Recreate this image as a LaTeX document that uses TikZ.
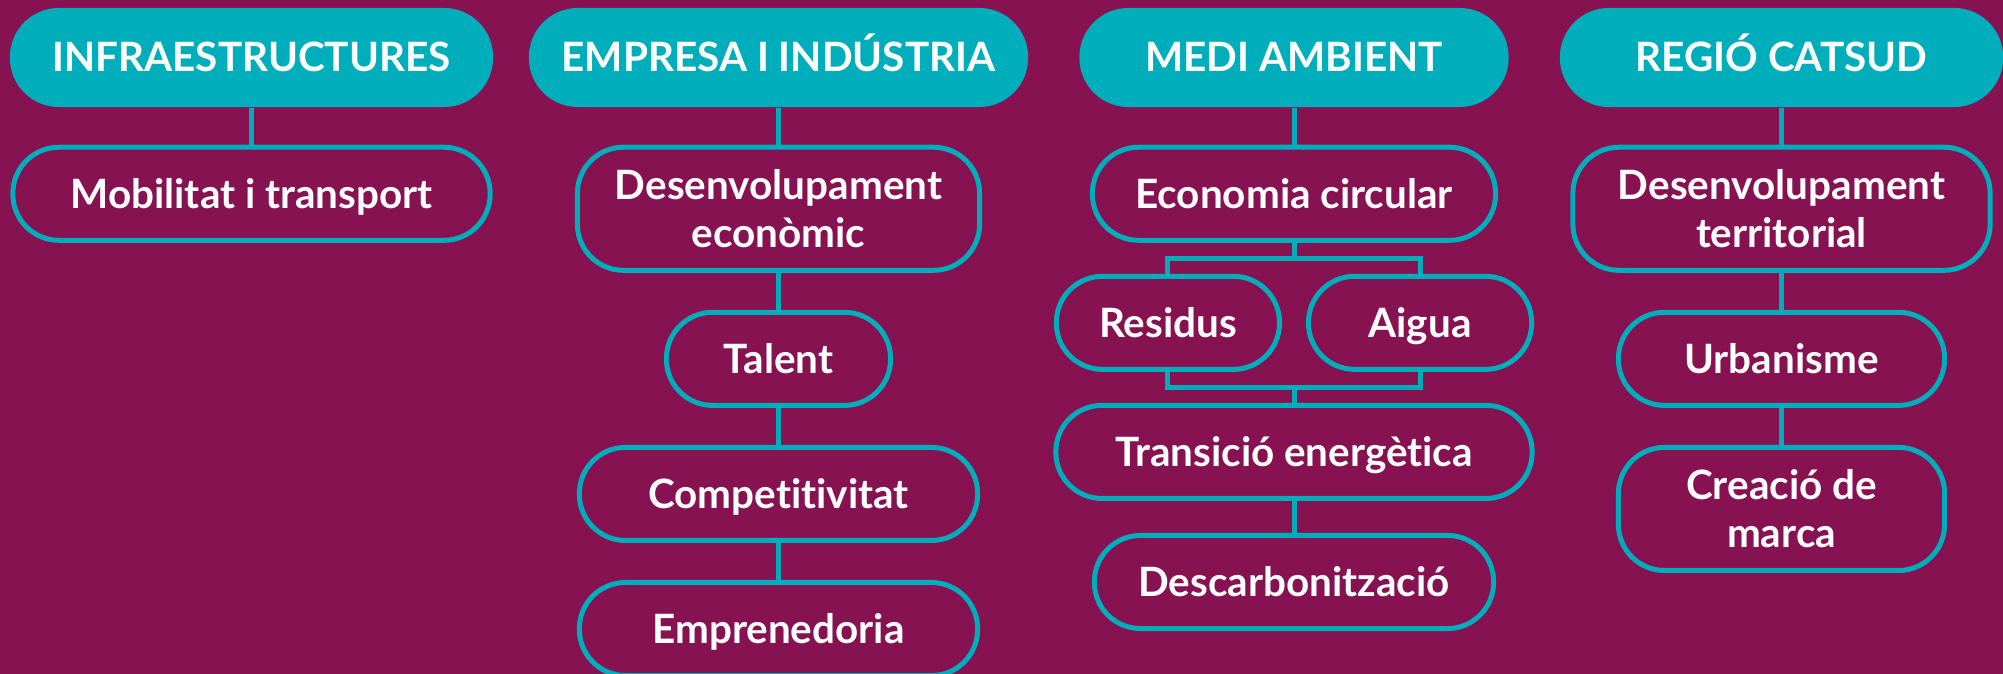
\documentclass[tikz,border=0pt]{standalone}
\usepackage{fontspec}
\setmainfont{Lato}[Ligatures=CommonOff]
\usetikzlibrary{positioning,calc}
\definecolor{plum}{HTML}{871252}
\definecolor{aqua}{HTML}{00ADBB}

\begin{document}
\begin{tikzpicture}[x=0.01cm,y=-0.01cm,node distance=0.37cm,
	every node/.style={text=white,font=\bfseries\fontsize{11.5}{13.7}\selectfont,align=center,inner sep=0pt},
	oneline/.style={text height=8.24pt,text depth=0pt},
	head/.style={oneline,fill=aqua,rounded corners=0.49cm,minimum height=0.99cm},
	pill/.style={draw=aqua,line width=0.05cm,rounded corners=0.46cm},
	topic/.style={pill,oneline,minimum height=0.93cm},
	tall/.style={pill,minimum height=1.23cm},
	link/.style={draw=aqua,line width=0.05cm}]
		\useasboundingbox (0,0) rectangle (2003,674);
		\fill[plum] (0,0) rectangle (2003,674);

		% headers
		\node[head,minimum width=4.83cm] (hInf) at (251.5,57.5) {INFRAESTRUCTURES};
		\node[head,minimum width=4.99cm] (hEmp) at (778.5,57.5) {EMPRESA I INDÚSTRIA};
		\node[head,minimum width=4.29cm] (hMed) at (1294,57.5) {MEDI AMBIENT};
		\node[head,minimum width=4.43cm] (hReg) at (1781.5,57.5) {REGIÓ CATSUD};

		% infraestructures
		\node[topic,minimum width=4.77cm] (iMob) [below=of hInf] {Mobilitat i transport};

		% empresa
		\node[tall,minimum width=4.02cm] (iEco) [below=of hEmp] {Desenvolupament\\econòmic};
		\node[topic,minimum width=2.24cm] (iTal) [below=of iEco] {Talent};
		\node[topic,minimum width=3.98cm] (iCom) [below=of iTal] {Competitivitat};
		\node[topic,minimum width=3.98cm] (iEmp) [below=of iCom] {Emprenedoria};

		% medi ambient
		\node[topic,minimum width=4.03cm] (iCir) [below=of hMed] {Economia circular};
		\node[topic,minimum width=2.23cm] (iRes) [below=0.31cm of iCir,xshift=-1.26cm] {Residus};
		\node[topic,minimum width=2.23cm] (iAig) [below=0.31cm of iCir,xshift=1.26cm] {Aigua};
		\node[topic,minimum width=4.76cm] (iTra) [below=0.31cm of iRes,xshift=1.26cm] {Transició energètica};
		\node[topic,minimum width=3.99cm] (iDes) [below=0.32cm of iTra] {Descarbonització};

		% regio
		\node[tall,minimum width=4.17cm] (iTer) [below=of hReg] {Desenvolupament\\territorial};
		\node[topic,minimum width=3.26cm] (iUrb) [below=of iTer] {Urbanisme};
		\node[tall,minimum width=3.26cm] (iMar) [below=of iUrb] {Creació de\\marca};

		\path[link]
		(hInf) edge (iMob)
		(hEmp) edge (iEco)
		(iEco) edge (iTal)
		(iTal) edge (iCom)
		(iCom) edge (iEmp)
		(hMed) edge (iCir)
		(iTra) edge (iDes)
		(hReg) edge (iTer)
		(iTer) edge (iUrb)
		(iUrb) edge (iMar)
		;

		% split and merge around Residus / Aigua
		\draw[link] (iCir.south) -- ++(0,15.5) coordinate (jTop);
		\draw[link] (iRes.north) |- (jTop) -| (iAig.north);
		\draw[link] (iTra.north) -- ++(0,-15.5) coordinate (jBot);
		\draw[link] (iRes.south) |- (jBot) -| (iAig.south);
	\end{tikzpicture}
\end{document}
